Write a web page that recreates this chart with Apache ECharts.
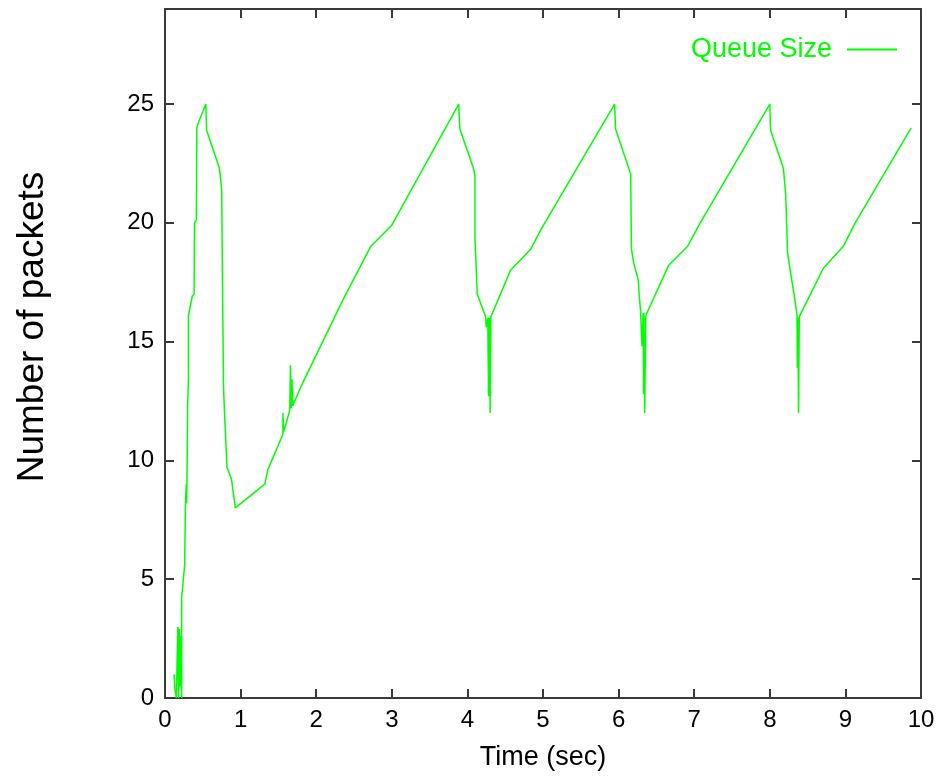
<!DOCTYPE html>
<html>
<head>
<meta charset="utf-8">
<script src="https://cdn.jsdelivr.net/npm/echarts@6/dist/echarts.min.js"></script>
<style>html,body{margin:0;padding:0;background:#fff;}#c{width:951px;height:780px;}</style>
</head>
<body>
<div id="c"></div>
<script>
var seriesName = 'Queue Size';
var xTicks = [0,1,2,3,4,5,6,7,8,9,10];
var yTicks = [0,5,10,15,20,25];
var timeSec = [
 0.12,0.13,0.15,0.16,0.17,0.18,0.19,0.20,0.21,0.22,0.22,0.26,0.27,0.28,0.285,0.29,0.30,0.31,0.31,0.36,0.385,0.39,0.415,0.42,0.44,0.54,0.55,0.72,0.75,0.763,0.775,0.79,0.82,0.88,0.93,
 1.32,1.36,1.56,1.56,1.57,1.65,1.66,1.67,1.68,1.69,1.79,2.36,2.72,3.0,3.885,3.9,4.08,4.1,4.1,4.13,4.24,4.25,4.27,4.28,4.285,4.29,4.295,4.30,4.31,
 4.57,4.84,4.97,5.947,5.96,6.16,6.17,6.20,6.26,6.27,6.29,6.31,6.325,6.33,6.335,6.345,6.36,
 6.66,6.91,7.08,8.0,8.01,8.18,8.21,8.235,8.27,8.33,8.36,8.365,8.37,8.375,8.38,8.39,8.71,8.97,9.13,9.87
];
var queuePackets = [
 1,0.4,0,0,3,0,2.9,0.5,2.6,0,4.2,5.6,8,9,8.2,9,12.4,13.4,16.1,16.9,17,20,20.1,24,24.2,25,23.9,22.3,21.4,16.6,13,11.8,9.7,9.2,8,
 9,9.6,11.1,12,11.2,12.1,14,12.2,13.4,12.3,13.05,16.8,19,19.9,25,23.95,22.3,22,19.4,17,16.05,15.6,16,12.7,16,13,16,12,16.05,
 18,18.9,19.7,25,23.95,22.05,18.9,18.3,17.6,17.07,16.3,14.8,16.2,12.8,16.2,12,16.1,
 18.2,19,20,25,23.9,22.3,21.2,18.75,18,16.8,16.1,13.9,16,14.5,12,16.05,18.1,19,20,24
];
var pts = timeSec.map(function(t,i){return [t, queuePackets[i]];});
var font = "'Liberation Sans',Arial,sans-serif";
var axisCol = '#3a3a3a';
var chart = echarts.init(document.getElementById('c'), null, {renderer:'canvas'});
function mirrorAxis(extra){
  var base = {
    type:'value',
    axisLine:{show:true, onZero:false, lineStyle:{color:axisCol, width:2}},
    axisTick:{show:true, inside:true, length:9, lineStyle:{color:axisCol, width:2}},
    splitLine:{show:false}
  };
  for (var k in extra) base[k] = extra[k];
  return base;
}
chart.setOption({
  animation:false,
  backgroundColor:'#fff',
  grid:{left:165,right:30,top:9,bottom:82,containLabel:false,outerBoundsMode:'none'},
  legend:{
    data:[seriesName], right:54, top:36, align:'right', itemWidth:50, itemHeight:2, itemGap:10,
    icon:'rect', padding:0,
    textStyle:{color:'#00ff00', fontFamily:font, fontSize:27, padding:[0,10,0,0]}
  },
  xAxis:[mirrorAxis({
    min:0, max:10, interval:1, position:'bottom',
    name:'Time (sec)', nameLocation:'middle', nameGap:46,
    nameTextStyle:{color:'#000', fontFamily:font, fontSize:27},
    axisLabel:{color:'#000', fontFamily:font, fontSize:24, margin:10,
      formatter:function(v){return xTicks.indexOf(v)>=0? String(v):'';}}
  }), mirrorAxis({
    min:0, max:10, interval:1, position:'top', axisLabel:{show:false}
  })],
  yAxis:[mirrorAxis({
    min:0, max:29, interval:5, position:'left',
    axisTick:{show:true, inside:true, length:9, customValues:yTicks, lineStyle:{color:axisCol, width:2}},
    axisLabel:{color:'#000', fontFamily:font, fontSize:24, margin:11, customValues:yTicks}
  }), mirrorAxis({
    min:0, max:29, interval:5, position:'right',
    axisTick:{show:true, inside:true, length:9, customValues:yTicks, lineStyle:{color:axisCol, width:2}},
    axisLabel:{show:false}
  })],
  graphic:[{
    type:'text', rotation:Math.PI/2, x:33, y:327,
    style:{text:'Number of packets', fill:'#000', font:'37px '+font, textAlign:'center', textVerticalAlign:'middle'}
  }],
  series:[{
    name:seriesName, type:'line', xAxisIndex:0, yAxisIndex:0,
    data:pts, symbol:'none', showSymbol:false,
    lineStyle:{color:'#00ff00', width:1.5}, itemStyle:{color:'#00ff00'}
  }]
});
</script>
</body>
</html>
